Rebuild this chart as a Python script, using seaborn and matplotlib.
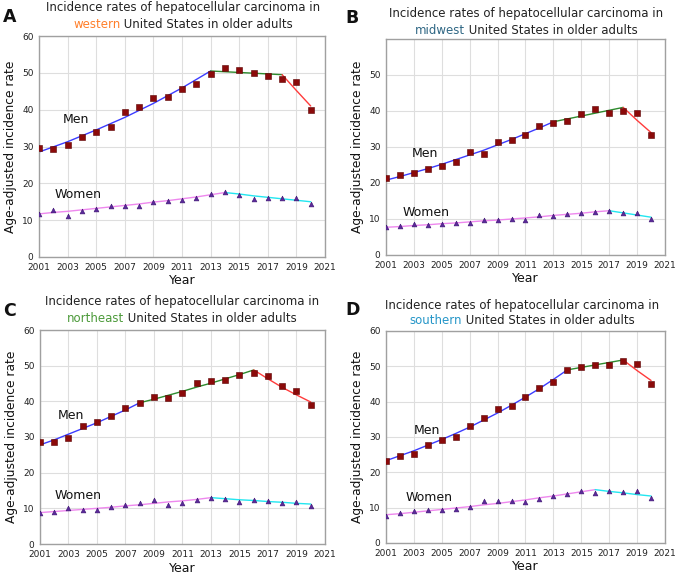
"""Incidence rates of hepatocellular carcinoma in older adults, four US regions."""

import matplotlib
import numpy as np
import pandas as pd
import seaborn as sns
from matplotlib import pyplot as plt

matplotlib.use("Agg")

W, H = 686, 576

years = list(range(2001, 2021))

# observed rates (per panel)
men_west = [29.5, 29.2, 30.3, 32.5, 34.0, 35.3, 39.5, 40.8, 43.3, 43.4,
            45.6, 46.9, 49.7, 51.2, 50.9, 50.0, 49.1, 48.2, 47.6, 39.8]
women_west = [11.7, 12.7, 11.2, 12.6, 13.1, 13.8, 13.8, 13.9, 15.0, 15.2,
              15.5, 16.0, 17.0, 17.6, 16.8, 15.8, 16.0, 16.0, 16.0, 14.5]
men_midwest = [21.3, 22.3, 22.8, 23.9, 24.8, 25.8, 28.5, 28.1, 31.5, 31.9,
               33.4, 35.7, 36.6, 37.3, 39.2, 40.5, 39.4, 40.1, 39.5, 33.2]
women_midwest = [7.7, 8.0, 8.5, 8.4, 8.5, 9.0, 8.9, 9.6, 9.7, 10.1,
                 9.8, 11.2, 10.8, 11.4, 11.7, 11.9, 12.1, 11.6, 11.6, 10.0]
men_northeast = [28.6, 28.7, 29.8, 33.0, 34.2, 35.8, 38.1, 39.6, 41.2, 40.8,
                 42.3, 45.2, 45.7, 46.0, 47.4, 48.0, 47.1, 44.2, 42.9, 38.9]
women_northeast = [8.8, 9.0, 10.2, 9.4, 9.6, 10.5, 11.0, 11.6, 12.4, 11.0,
                   11.6, 12.4, 13.0, 12.7, 11.8, 12.3, 12.1, 11.6, 11.9, 10.6]
men_south = [23.3, 24.7, 25.1, 27.7, 29.2, 30.0, 33.1, 35.4, 38.0, 38.7,
             41.4, 43.9, 45.6, 49.1, 49.7, 50.3, 50.4, 51.4, 50.6, 45.0]
women_south = [7.7, 8.4, 9.0, 9.4, 9.4, 9.5, 10.3, 12.0, 12.0, 11.8,
               11.5, 12.4, 13.4, 14.0, 14.8, 14.2, 14.7, 14.3, 14.6, 12.6]

# joinpoint model fitted values per year, and the joinpoint years
men_fit_west = [28.5, 29.9, 31.3, 32.9, 34.5, 36.2, 37.9, 39.8, 41.7, 43.8,
                45.9, 48.2, 50.5, 50.3, 50.1, 49.9, 49.7, 49.5, 45.2, 41.0]
men_joins_west = [2001, 2013, 2018, 2020]
women_fit_west = [11.7, 12.1, 12.4, 12.8, 13.2, 13.6, 14.0, 14.4, 14.9, 15.3,
                  15.8, 16.3, 16.9, 17.5, 17.1, 16.6, 16.2, 15.8, 15.4, 15.0]
women_joins_west = [2001, 2014, 2020]

men_fit_midwest = [20.8, 21.8, 22.9, 24.0, 25.2, 26.5, 27.8, 29.1, 30.6, 32.1,
                   33.7, 35.3, 37.0, 37.8, 38.6, 39.4, 40.2, 41.0, 37.4, 34.0]
men_joins_midwest = [2001, 2013, 2018, 2020]
women_fit_midwest = [7.7, 7.9, 8.2, 8.4, 8.7, 8.9, 9.2, 9.5, 9.7, 10.0,
                     10.3, 10.6, 11.0, 11.3, 11.6, 12.0, 12.3, 11.7, 11.1, 10.5]
women_joins_midwest = [2001, 2017, 2020]

men_fit_northeast = [27.8, 29.2, 30.8, 32.4, 34.0, 35.8, 37.6, 39.6, 40.6, 41.7,
                     42.8, 44.0, 45.1, 46.3, 47.5, 48.8, 46.3, 43.9, 41.8, 39.8]
men_joins_northeast = [2001, 2008, 2016, 2020]
women_fit_northeast = [8.8, 9.1, 9.4, 9.7, 10.0, 10.3, 10.7, 11.0, 11.4, 11.8,
                       12.1, 12.5, 13.0, 12.7, 12.4, 12.2, 11.9, 11.7, 11.4, 11.2]
women_joins_northeast = [2001, 2013, 2020]

men_fit_south = [23.3, 24.7, 26.1, 27.7, 29.3, 31.0, 32.8, 34.8, 36.8, 39.0,
                 41.3, 43.7, 46.3, 49.0, 49.7, 50.4, 51.1, 51.8, 48.8, 46.0]
men_joins_south = [2001, 2014, 2018, 2020]
women_fit_south = [8.0, 8.3, 8.7, 9.1, 9.5, 9.9, 10.3, 10.8, 11.2, 11.7,
                   12.2, 12.8, 13.3, 13.9, 14.5, 15.1, 14.6, 14.2, 13.7, 13.3]
women_joins_south = [2001, 2016, 2020]

x_ticks = list(range(2001, 2022, 2))
y_ticks_full = [0, 10, 20, 30, 40, 50, 60]
y_ticks_b = [0, 10, 20, 30, 40, 50]

MEN_SEG_COLORS = ["#3c3cff", "#2e8b2e", "#ff3b3b"]
WOMEN_SEG_COLORS = ["#ee88ee", "#22e6f0"]

panels = [
    dict(letter="A", word="western", color="#ff7f2a",
         men=men_west, women=women_west,
         men_fit=men_fit_west, men_joins=men_joins_west,
         women_fit=women_fit_west, women_joins=women_joins_west,
         yticks=y_ticks_full,
         box=(39, 36, 325, 257), title_cx=183, title_y=(8, 25),
         men_lab=(2003.6, 37.4), women_lab=(2003.7, 16.9)),
    dict(letter="B", word="midwest", color="#2f6784",
         men=men_midwest, women=women_midwest,
         men_fit=men_fit_midwest, men_joins=men_joins_midwest,
         women_fit=women_fit_midwest, women_joins=women_joins_midwest,
         yticks=y_ticks_b,
         box=(386, 39, 665, 255), title_cx=526, title_y=(13, 30),
         men_lab=(2003.8, 28.3), women_lab=(2003.9, 11.9)),
    dict(letter="C", word="northeast", color="#4c9a3a",
         men=men_northeast, women=women_northeast,
         men_fit=men_fit_northeast, men_joins=men_joins_northeast,
         women_fit=women_fit_northeast, women_joins=women_joins_northeast,
         yticks=y_ticks_full,
         box=(40, 330, 325, 544), title_cx=182, title_y=(302, 318),
         men_lab=(2003.2, 35.9), women_lab=(2003.7, 13.7)),
    dict(letter="D", word="southern", color="#2596c8",
         men=men_south, women=women_south,
         men_fit=men_fit_south, men_joins=men_joins_south,
         women_fit=women_fit_south, women_joins=women_joins_south,
         yticks=y_ticks_full,
         box=(386, 331, 665, 543), title_cx=522, title_y=(305, 320),
         men_lab=(2003.9, 31.7), women_lab=(2004.1, 13.0)),
]


def draw_segments(ax, fit, joins, colors):
    fit_df = pd.DataFrame({"year": years, "rate": fit})
    for idx, (start, end) in enumerate(zip(joins[:-1], joins[1:])):
        seg = fit_df[(fit_df["year"] >= start) & (fit_df["year"] <= end)]
        sns.lineplot(data=seg, x="year", y="rate", ax=ax, color=colors[idx],
                     linewidth=1.0, estimator=None, sort=False)


def draw_title(fig, renderer, cx, y1, y2, word, color):
    fs = 8.5
    fig.text(cx / W, 1 - y1 / H, "Incidence rates of hepatocellular carcinoma in",
             ha="center", va="center", fontsize=fs, color="#222222")
    t_word = fig.text(0, 1 - y2 / H, word, ha="left", va="center", fontsize=fs, color=color)
    t_rest = fig.text(0, 1 - y2 / H, " United States in older adults", ha="left",
                      va="center", fontsize=fs, color="#222222")
    w1 = t_word.get_window_extent(renderer).width
    w2 = t_rest.get_window_extent(renderer).width
    start = cx - (w1 + w2) / 2
    t_word.set_x(start / W)
    t_rest.set_x((start + w1) / W)


sns.set_theme(style="whitegrid")
plt.rcParams["font.family"] = ["DejaVu Sans"]

fig = plt.figure(figsize=(W / 100, H / 100), dpi=100)
renderer = fig.canvas.get_renderer()

for p in panels:
    left, top, right, bottom = p["box"]
    ax = fig.add_axes([left / W, 1 - bottom / H, (right - left) / W, (bottom - top) / H])
    ax.set_facecolor("white")

    draw_segments(ax, p["men_fit"], p["men_joins"], MEN_SEG_COLORS)
    draw_segments(ax, p["women_fit"], p["women_joins"], WOMEN_SEG_COLORS)

    obs = pd.DataFrame({"year": years, "men": p["men"], "women": p["women"]})
    sns.scatterplot(data=obs, x="year", y="men", ax=ax, marker="s", s=18,
                    color="#8b0a0a", edgecolor="#5a0000", linewidth=0.4, zorder=5)
    sns.scatterplot(data=obs, x="year", y="women", ax=ax, marker="^", s=12,
                    color="#5b2a9a", edgecolor="#3b1070", linewidth=0.4, zorder=5)

    ax.set_xlim(2001, 2021)
    ax.set_ylim(0, 60)
    ax.set_xticks(x_ticks)
    ax.set_yticks(p["yticks"])
    ax.tick_params(axis="both", length=0, labelsize=6.5, colors="#222222")
    ax.tick_params(axis="x", pad=4)
    ax.tick_params(axis="y", pad=4)
    ax.grid(True, color="#dedede", linewidth=0.8)
    for spine in ax.spines.values():
        spine.set_color("#a0a0a0")
        spine.set_linewidth(1.0)
    ax.set_xlabel("")
    ax.set_ylabel("")

    ax.text(*p["men_lab"], "Men", ha="center", va="center", fontsize=9, color="#111111")
    ax.text(*p["women_lab"], "Women", ha="center", va="center", fontsize=9, color="#111111")

    fig.text((left - 28) / W, 1 - ((top + bottom) / 2) / H, "Age-adjusted incidence rate",
             rotation=90, ha="center", va="center", fontsize=8.8, color="#111111")
    fig.text(((left + right) / 2) / W, 1 - (bottom + 24) / H, "Year",
             ha="center", va="center", fontsize=9, color="#111111")

    draw_title(fig, renderer, p["title_cx"], *p["title_y"], p["word"], p["color"])
    lx = 3 if p["letter"] in "AC" else 345
    ly = top - 26 if p["letter"] in "AC" else top - 28
    fig.text(lx / W, 1 - (ly + 7) / H, p["letter"], ha="left", va="center",
             fontsize=12.5, fontweight="bold", color="#111111")

fig.savefig("out.png", dpi=100)
